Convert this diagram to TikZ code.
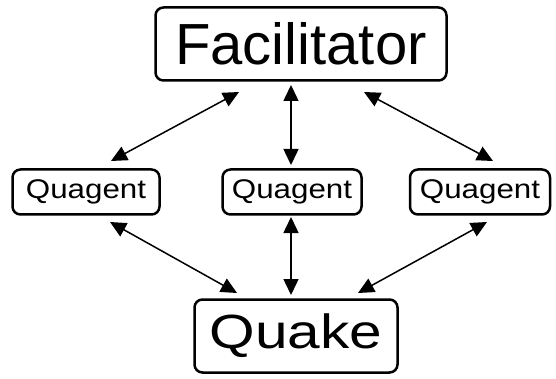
\documentclass[tikz,border=0pt]{standalone}
\usepackage{fontspec}
\usepackage{graphicx}
\setmainfont{Liberation Sans}
\usetikzlibrary{arrows.meta}
\begin{document}
\begin{tikzpicture}[x=1pt,y=-1pt,
  box/.style={draw=black,line width=2.5pt,rounded corners=8pt,inner sep=0pt,fill=white},
  arr/.style={line width=1.5pt,{Triangle[length=16pt,width=15pt]}-{Triangle[length=16pt,width=15pt]}}]
\useasboundingbox (0,0) rectangle (556,379);
\node[box,minimum width=291pt,minimum height=73pt] (fac) at (301,44)
  {\fontsize{58}{62}\selectfont Facilitator};
\node[box,minimum width=147pt,minimum height=45pt] (q1) at (86,192)
  {\fontsize{27}{30}\selectfont\scalebox{1.16}[1]{Quagent}};
\node[box,minimum width=139pt,minimum height=45pt] (q2) at (292,192)
  {\fontsize{27}{30}\selectfont\scalebox{1.16}[1]{Quagent}};
\node[box,minimum width=140pt,minimum height=45pt] (q3) at (480,192)
  {\fontsize{27}{30}\selectfont\scalebox{1.16}[1]{Quagent}};
\node[box,minimum width=203pt,minimum height=73pt] (qk) at (296,336)
  {\fontsize{48}{52}\selectfont\scalebox{1.22}[1]{Quake}};
\coordinate (a1) at (239,92); \coordinate (b1) at (111,161);
\coordinate (a2) at (291,85); \coordinate (b2) at (291,165);
\coordinate (a3) at (364,92); \coordinate (b3) at (493,161);
\coordinate (c1) at (110,222); \coordinate (d1) at (237,293);
\coordinate (c2) at (291,217); \coordinate (d2) at (291,295);
\coordinate (c3) at (487,222); \coordinate (d3) at (358,293);
\draw[arr] (a1) -- (b1);
\draw[arr] (a2) -- (b2);
\draw[arr] (a3) -- (b3);
\draw[arr] (c1) -- (d1);
\draw[arr] (c2) -- (d2);
\draw[arr] (c3) -- (d3);
\end{tikzpicture}
\end{document}
